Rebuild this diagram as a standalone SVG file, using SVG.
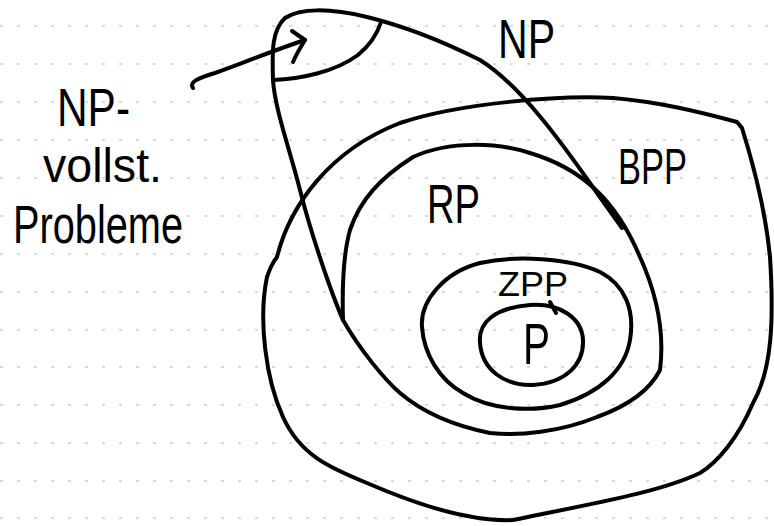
<svg xmlns="http://www.w3.org/2000/svg" width="774" height="526" viewBox="0 0 774 526">
<style>
.ln{fill:none;stroke:#000;stroke-width:4;stroke-linecap:round;stroke-linejoin:round}
.rule{stroke:#b4b4b4;stroke-width:1.2;stroke-dasharray:3 14}
.t{font-family:"Liberation Sans",Arial,sans-serif;fill:#000}
</style>
<rect width="774" height="526" fill="#fff"/>
<g id="ruling">
<line class="rule" x1="0" y1="26" x2="774" y2="26"/>
<line class="rule" x1="0" y1="64" x2="774" y2="64"/>
<line class="rule" x1="0" y1="102" x2="774" y2="102"/>
<line class="rule" x1="0" y1="140" x2="774" y2="140"/>
<line class="rule" x1="0" y1="178" x2="774" y2="178"/>
<line class="rule" x1="0" y1="216" x2="774" y2="216"/>
<line class="rule" x1="0" y1="254" x2="774" y2="254"/>
<line class="rule" x1="0" y1="292" x2="774" y2="292"/>
<line class="rule" x1="0" y1="330" x2="774" y2="330"/>
<line class="rule" x1="0" y1="367" x2="774" y2="367"/>
<line class="rule" x1="0" y1="405" x2="774" y2="405"/>
<line class="rule" x1="0" y1="443" x2="774" y2="443"/>
<line class="rule" x1="0" y1="481" x2="774" y2="481"/>
<line class="rule" x1="0" y1="518" x2="774" y2="518"/>
</g>
<g id="bpp">
<path class="ln" d="M277,257 C290,205 330,150 400,123 C460,103 560,95 613,98 C660,102 700,112 737,122 L742,128 C752,160 765,205 770,257 C774,320 772,370 753,403 C738,438 718,462 700,473 C660,492 600,502 513,520 C470,522 413,503 367,483 C330,468 300,455 283,417 C266,380 258,320 267,277 C270,268 273,262 277,257 Z"/>
<text class="t" x="618" y="184" font-size="50" textLength="69" lengthAdjust="spacingAndGlyphs">BPP</text>
</g>
<g id="np">
<path class="ln" d="M343,320 C330,290 310,230 300,190 C290,150 275,110 273,80 C272,50 272,30 285,18 C300,8 330,8 367,17 C400,25 440,40 480,60 C520,85 560,140 597,193 L622,228"/>
<text class="t" x="498" y="58" font-size="55" textLength="57" lengthAdjust="spacingAndGlyphs">NP</text>
</g>
<g id="npc">
<path class="ln" d="M273,80 C300,79 335,72 358,55 C370,45 377,35 381,22"/>
<text class="t" x="57" y="126" font-size="54" textLength="73" lengthAdjust="spacingAndGlyphs">NP-</text>
<text class="t" x="43" y="182" font-size="48" textLength="119" lengthAdjust="spacingAndGlyphs">vollst.</text>
<text class="t" x="13" y="243" font-size="54" textLength="170" lengthAdjust="spacingAndGlyphs">Probleme</text>
</g>
<g id="rp">
<path class="ln" d="M343,320 C342,285 343,255 350,230 C360,200 380,178 413,157 C450,140 500,143 530,153 C580,168 615,198 640,257 C655,290 665,330 660,370 C650,390 630,405 597,417 C560,432 520,436 490,433 C450,425 420,410 400,393 C385,380 360,350 343,320 Z"/>
<text class="t" x="427" y="223" font-size="56" textLength="53" lengthAdjust="spacingAndGlyphs">RP</text>
</g>
<g id="zpp">
<path class="ln" d="M422,327 C420,300 445,272 480,263 C515,255 570,258 600,272 C625,285 635,310 630,340 C625,370 600,393 560,405 C530,412 490,410 463,393 C440,380 424,355 422,327 Z"/>
<text class="t" x="498" y="296" font-size="35" textLength="70" lengthAdjust="spacingAndGlyphs">ZPP</text>
</g>
<g id="p">
<path class="ln" d="M480,343 C478,322 495,308 530,305 C560,303 582,318 583,340 C584,365 565,383 533,385 C505,386 482,370 480,343 Z"/>
<path class="ln" d="M550,302 L556,313"/>
<text class="t" x="523" y="364" font-size="58" textLength="27" lengthAdjust="spacingAndGlyphs">P</text>
</g>
<g id="connectors">
<path class="ln" d="M193,88 C189,82 198,78 215,73 C245,62 275,50 305,40"/>
<path class="ln" d="M292,31 L305,40 C300,48 296,55 293,62"/>
</g>
</svg>
